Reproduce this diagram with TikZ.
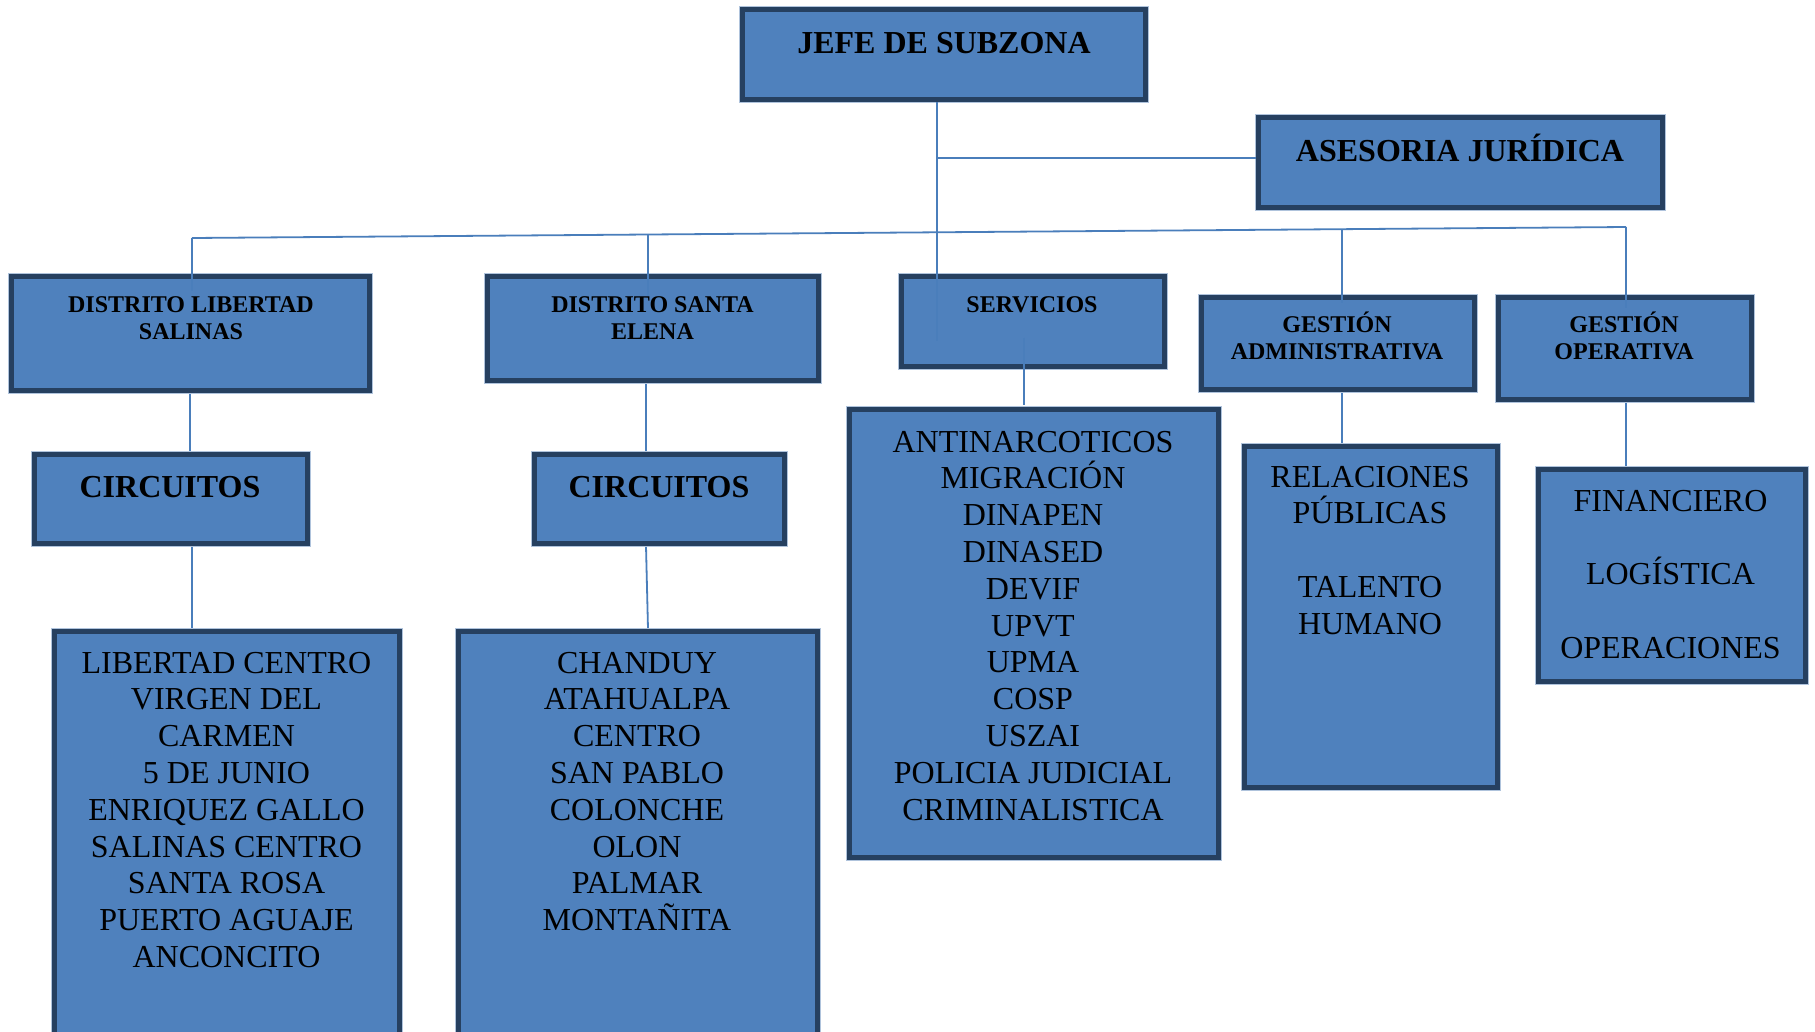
\documentclass[tikz,border=0pt]{standalone}
\usepackage{fontspec}
\setmainfont{Liberation Serif}
\usetikzlibrary{backgrounds}
\definecolor{boxfill}{RGB}{79,129,189}
\definecolor{boxline}{RGB}{38,64,96}
\definecolor{boxhalo}{RGB}{175,195,220}
\definecolor{linkc}{RGB}{74,126,187}
\tikzset{
  orgbox/.style={draw=boxline, line width=5pt, fill=boxfill, inner sep=0pt,
    preaction={draw=boxhalo, line width=7pt}},
  conn/.style={draw=linkc, line width=1.8pt},
  hdr/.style={anchor=base, inner sep=0pt, font=\bfseries\fontsize{24}{27.5}\selectfont},
  big/.style={anchor=base, inner sep=0pt, font=\bfseries\fontsize{32}{36}\selectfont},
  lst/.style={anchor=base, inner sep=0pt, font=\fontsize{32}{36.8}\selectfont},
}
\begin{document}
\begin{tikzpicture}[x=1pt,y=-1pt]
\clip (0,0) rectangle (1815,1031);

% boxes
\node[orgbox, minimum width=403pt, minimum height=90pt] (jefe) at (944,54.5) {};
\node[orgbox, minimum width=404pt, minimum height=90pt] (ases) at (1460.5,162.5) {};
\node[orgbox, minimum width=358pt, minimum height=114pt] (dlib) at (190.5,333.5) {};
\node[orgbox, minimum width=331pt, minimum height=104pt] (dse) at (653,328.5) {};
\node[orgbox, minimum width=263pt, minimum height=90pt] (serv) at (1033,321.5) {};
\node[orgbox, minimum width=273pt, minimum height=92pt] (gadm) at (1338,343.5) {};
\node[orgbox, minimum width=253pt, minimum height=102pt] (gop) at (1625,348.5) {};
\node[orgbox, minimum width=273pt, minimum height=89pt] (circ1) at (171,499) {};
\node[orgbox, minimum width=250pt, minimum height=89pt] (circ2) at (659.5,499) {};
\node[orgbox, minimum width=345pt, minimum height=426pt] (lib) at (227,844.5) {};
\node[orgbox, minimum width=359pt, minimum height=426pt] (se) at (638,844.5) {};
\node[orgbox, minimum width=369pt, minimum height=448pt] (servbig) at (1034,633.5) {};
\node[orgbox, minimum width=253pt, minimum height=341pt] (rel) at (1371,617) {};
\node[orgbox, minimum width=267pt, minimum height=212pt] (fin) at (1672,575.5) {};

% texts
\node[big] (tjefe) at (944,53) {JEFE DE SUBZONA};
\node[big] (tases) at (1460,161) {ASESORIA JURÍDICA};
\node[hdr] (tdlib) at (191,312) {\parbox[t]{340pt}{\centering DISTRITO LIBERTAD\\SALINAS}};
\node[hdr] (tdse) at (652.5,312) {\parbox[t]{320pt}{\centering DISTRITO SANTA\\ELENA}};
\node[hdr] (tserv) at (1032,312) {SERVICIOS};
\node[hdr] (tgadm) at (1337,332) {\parbox[t]{270pt}{\centering GESTIÓN\\ADMINISTRATIVA}};
\node[hdr] (tgop) at (1624,332) {\parbox[t]{250pt}{\centering GESTIÓN\\OPERATIVA}};
\node[big] (tcirc1) at (170,497) {CIRCUITOS};
\node[big] (tcirc2) at (659,497) {CIRCUITOS};
\node[lst] (tlib) at (226.5,673) {\parbox[t]{340pt}{\centering LIBERTAD CENTRO\\VIRGEN DEL\\CARMEN\\5 DE JUNIO\\ENRIQUEZ GALLO\\SALINAS CENTRO\\SANTA ROSA\\PUERTO AGUAJE\\ANCONCITO}};
\node[lst] (tse) at (637,673) {\parbox[t]{350pt}{\centering CHANDUY\\ATAHUALPA\\CENTRO\\SAN PABLO\\COLONCHE\\OLON\\PALMAR\\MONTAÑITA}};
\node[lst] (tservbig) at (1033,452) {\parbox[t]{360pt}{\centering ANTINARCOTICOS\\MIGRACIÓN\\DINAPEN\\DINASED\\DEVIF\\UPVT\\UPMA\\COSP\\USZAI\\POLICIA JUDICIAL\\CRIMINALISTICA}};
\node[lst] (trel) at (1370,487) {\parbox[t]{250pt}{\centering RELACIONES\\PÚBLICAS\\[37pt]TALENTO\\HUMANO}};
\node[lst] (tfin) at (1670.5,511) {\parbox[t]{260pt}{\centering FINANCIERO\\[36.5pt]LOGÍSTICA\\[37.5pt]OPERACIONES}};

% connectors
\coordinate (barL) at (192,238);
\coordinate (barR) at (1626,227);
\coordinate (jx) at (937,158);
\coordinate (b2) at (648,234.5);
\coordinate (b4) at (1342,229.2);
\draw[conn] (barL) -- (barR);
\draw[conn] ([xshift=-7pt]jefe.south) -- ([xshift=-96pt,yshift=-66.5pt]serv.north);
\draw[conn] (jx) -- (jx -| ases.west);
\draw[conn] (barL) -- ([xshift=1.5pt,yshift=-16.5pt]dlib.north);
\draw[conn] (b2) -- ([xshift=-5pt,yshift=-21.5pt]dse.north);
\draw[conn] (b4) -- ([xshift=4pt,yshift=-7.5pt]gadm.north);
\draw[conn] (barR) -- ([xshift=1pt,yshift=-12.5pt]gop.north);
\draw[conn] ([xshift=-9pt,yshift=31.5pt]serv.south) -- ([xshift=-10pt,yshift=2.5pt]servbig.north);
\begin{pgfonlayer}{background}
\fill[white] (0,0) rectangle (1815,1031);
\draw[conn] ([xshift=-0.5pt]dlib.south) -- ([xshift=19pt]circ1.north);
\draw[conn] ([xshift=21pt]circ1.south) -- ([xshift=-35pt]lib.north);
\draw[conn] ([xshift=-7pt]dse.south) -- ([xshift=-13.5pt]circ2.north);
\draw[conn] ([xshift=-13.5pt]circ2.south) -- ([xshift=10pt]se.north);
\draw[conn] ([xshift=4pt]gadm.south) -- ([xshift=-29pt]rel.north);
\draw[conn] ([xshift=1pt]gop.south) -- ([xshift=-46pt]fin.north);
\end{pgfonlayer}
\end{tikzpicture}
\end{document}
